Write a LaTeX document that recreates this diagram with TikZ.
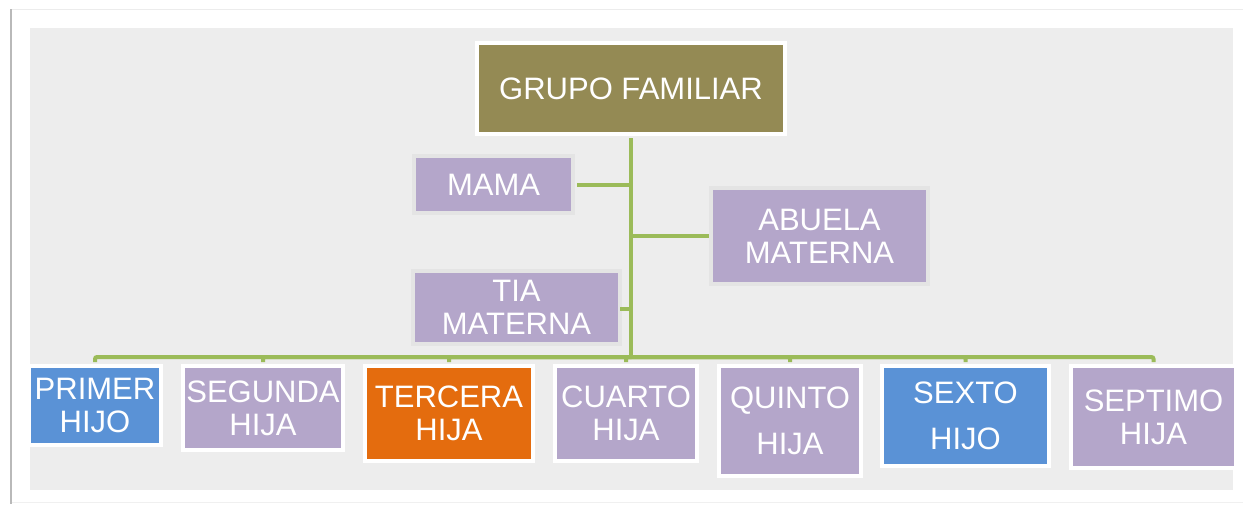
\documentclass[tikz,border=0pt]{standalone}
\usepackage{fontspec}
\setmainfont{Liberation Sans}
\definecolor{olive}{HTML}{948A54}
\definecolor{lav}{HTML}{B4A6CA}
\definecolor{kidblue}{HTML}{5A92D6}
\definecolor{kidorange}{HTML}{E46C0E}
\definecolor{lgreen}{HTML}{9BBB59}
\definecolor{bggrey}{HTML}{EDEDED}
\definecolor{halo}{HTML}{E4E4E4}
\tikzset{
  box/.style={rectangle, inner sep=0pt, outer sep=0pt, align=center, text=white,
    font=\fontsize{31}{33}\selectfont, line width=4pt},
  whitebox/.style={box, draw=white},
  halobox/.style={box, draw=halo, fill=lav},
  conn/.style={draw=lgreen, line width=4pt, rounded corners=2pt}
}
\begin{document}
\begin{tikzpicture}[x=1pt,y=-1pt]
\useasboundingbox (0,0) rectangle (1243,504);
\fill[white] (0,0) rectangle (1243,504);
% page edges
\draw[gray!15, line width=1pt] (11,9.5) -- (1243,9.5);
\draw[gray!12, line width=1pt] (11,502) -- (1243,502);
\draw[gray!55, line width=2.5pt] (11,9) -- (11,504);
\fill[bggrey] (30,28) rectangle (1233,490);

% nodes
\node[whitebox, fill=olive, minimum width=308, minimum height=91] (g) at (631,88.5) {GRUPO FAMILIAR};
\node[halobox, minimum width=159, minimum height=57] (mama) at (493.5,184.5) {MAMA};
\node[halobox, minimum width=217, minimum height=96] (abuela) at (819.5,236) {ABUELA\\MATERNA};
\node[halobox, minimum width=207, minimum height=73] (tia) at (516.5,307.5) {TIA\\MATERNA};

\node[whitebox, fill=kidblue, minimum width=132, minimum height=79] (c1) at (95,405.5) {PRIMER\\HIJO};
\node[whitebox, fill=lav, minimum width=160, minimum height=84] (c2) at (263,408) {SEGUNDA\\HIJA};
\node[whitebox, fill=kidorange, minimum width=168, minimum height=95] (c3) at (449,413.5) {TERCERA\\HIJA};
\node[whitebox, fill=lav, minimum width=142, minimum height=95] (c4) at (626,413.5) {CUARTO\\HIJA};
\node[whitebox, fill=lav, minimum width=142, minimum height=110, font=\fontsize{31}{46}\selectfont] (c5) at (790,421) {QUINTO\\HIJA};
\node[whitebox, fill=kidblue, minimum width=167, minimum height=100, font=\fontsize{31}{46}\selectfont] (c6) at (965.5,416) {SEXTO\\HIJO};
\node[whitebox, fill=lav, minimum width=165, minimum height=102] (c7) at (1153.5,417) {SEPTIMO\\HIJA};

% connectors
\coordinate (bus) at (631,357);
\draw[conn, shorten <=4pt] (g.south) -- (bus);
\draw[conn, shorten <=4pt] (mama.east) -- (mama.east -| g.south);
\draw[conn, shorten >=2pt] (abuela.west -| g.south) -- (abuela.west);
\draw[conn] (tia.east |- 0,309) -- (g.south |- 0,309);
\foreach \c in {c1,c2,c3,c4,c5,c6,c7}{
  \draw[conn, shorten >=4pt] (bus) -| (\c.north);
}
\end{tikzpicture}
\end{document}
